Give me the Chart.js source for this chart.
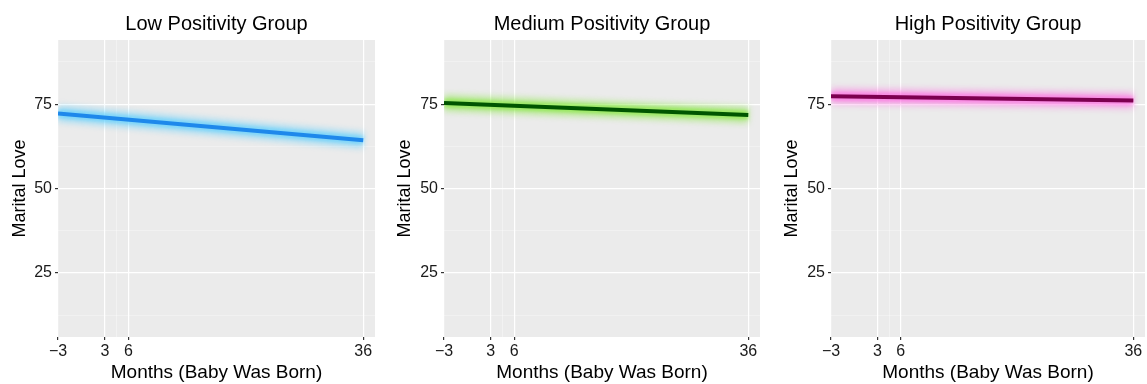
<!DOCTYPE html>
<html>
<head>
<meta charset="utf-8">
<script src="https://cdn.jsdelivr.net/npm/chart.js@4.4.1/dist/chart.umd.min.js"></script>
<style>
  html, body { margin: 0; padding: 0; background: #ffffff; }
  #wrap { position: relative; width: 1147px; height: 384px; overflow: hidden; }
  .panel { position: absolute; top: 0; height: 384px; }
</style>
</head>
<body>
<div id="wrap">
  <div class="panel" style="left:0px"><canvas id="panel0" width="380" height="384"></canvas></div>
  <div class="panel" style="left:380px"><canvas id="panel1" width="385" height="384"></canvas></div>
  <div class="panel" style="left:770px"><canvas id="panel2" width="377" height="384"></canvas></div>
</div>
<script>
// Fitted marital love trajectories, one per positivity group
const months = [-3, 36];
const lowLove = [72.2, 64.3];
const mediumLove = [75.3, 71.8];
const highLove = [77.3, 76.1];

const groupTitles = ['Low Positivity Group', 'Medium Positivity Group', 'High Positivity Group'];
const xTickValues = [-3, 3, 6, 36];
const xMinorValues = [4.5];
const yTickValues = [25, 50, 75];
const yMinorValues = [12.5, 37.5, 62.5, 87.5];
const xLabel = 'Months (Baby Was Born)';
const yLabel = 'Marital Love';

// Per-panel styling: line colour, halo colour, canvas geometry
const panels = [
  { values: lowLove,    line: 'rgb(30,136,235)', halo: 'rgba(80,205,255,0.45)',  axisWidth: 58, padRight: 5, titlePad: 9 },
  { values: mediumLove, line: 'rgb(0,85,0)',     halo: 'rgba(120,230,40,0.45)',  axisWidth: 64, padRight: 5, titlePad: 14 },
  { values: highLove,   line: 'rgb(125,0,80)',   halo: 'rgba(255,95,225,0.45)',  axisWidth: 61, padRight: 2, titlePad: 11 }
];

Chart.defaults.font.family = "'Liberation Sans', Arial, sans-serif";
Chart.defaults.color = '#1a1a1a';

// Grey panel background
const panelBackground = {
  id: 'panelBackground',
  beforeDraw(chart) {
    const { ctx, chartArea: a } = chart;
    ctx.save();
    ctx.fillStyle = '#EBEBEB';
    ctx.fillRect(a.left, a.top, a.right - a.left, a.bottom - a.top);
    ctx.restore();
  }
};

// Soft halo: blur datasets that request it
const haloBlur = {
  id: 'haloBlur',
  beforeDatasetDraw(chart, args) {
    const ds = chart.data.datasets[args.index];
    chart.ctx.save();
    if (ds.blur) chart.ctx.filter = 'blur(' + ds.blur + 'px)';
  },
  afterDatasetDraw(chart) {
    chart.ctx.restore();
  }
};

const isMajor = (list, v) => list.some(t => Math.abs(t - v) < 1e-9);

function pts(values) {
  return months.map((m, i) => ({ x: m, y: values[i] }));
}

panels.forEach((p, idx) => {
  new Chart(document.getElementById('panel' + idx), {
    type: 'scatter',
    data: {
      datasets: [
        // fitted line on top (lowest order is drawn last)
        { data: pts(p.values), order: 0, showLine: true, borderColor: p.line, borderWidth: 4, pointRadius: 0, borderCapStyle: 'butt' },
        { data: pts(p.values), order: 1, showLine: true, borderColor: p.halo, borderWidth: 9, blur: 1.5, pointRadius: 0, borderCapStyle: 'butt' },
        { data: pts(p.values), order: 2, showLine: true, borderColor: p.halo, borderWidth: 16, blur: 3, pointRadius: 0, borderCapStyle: 'butt' }
      ]
    },
    options: {
      responsive: false,
      animation: false,
      layout: { padding: { left: 0, right: p.padRight, top: 0, bottom: 0 } },
      plugins: {
        legend: { display: false },
        tooltip: { enabled: false },
        title: {
          display: true,
          text: groupTitles[idx],
          fullSize: false,
          color: '#000',
          font: { size: 20, weight: 'normal', lineHeight: 1.2 },
          padding: { top: 12, bottom: 4 }
        }
      },
      scales: {
        x: {
          type: 'linear',
          min: -3,
          max: 37.5,
          afterBuildTicks(scale) {
            scale.ticks = xTickValues.concat(xMinorValues).sort((a, b) => a - b).map(v => ({ value: v }));
          },
          afterFit(scale) { scale.height = 47; },
          ticks: {
            autoSkip: false,
            maxRotation: 0,
            padding: 2,
            color: '#1a1a1a',
            font: { size: 16 },
            callback: v => isMajor(xTickValues, v) ? String(v).replace('-', '\u2212') : ''
          },
          grid: {
            color: c => isMajor(xTickValues, c.tick.value) ? '#ffffff' : 'rgba(255,255,255,0.6)',
            lineWidth: c => isMajor(xTickValues, c.tick.value) ? 1.2 : 0.6,
            tickColor: c => isMajor(xTickValues, c.tick.value) ? '#333333' : 'rgba(0,0,0,0)',
            tickLength: 3
          },
          border: { display: false },
          title: {
            display: true,
            text: xLabel,
            color: '#000',
            font: { size: 19, lineHeight: 1.2 },
            padding: { top: 0, bottom: 0 }
          }
        },
        y: {
          type: 'linear',
          min: 6,
          max: 94,
          afterBuildTicks(scale) {
            scale.ticks = yTickValues.concat(yMinorValues).sort((a, b) => a - b).map(v => ({ value: v }));
          },
          afterFit(scale) { scale.width = p.axisWidth; },
          ticks: {
            autoSkip: false,
            padding: 3,
            color: '#1a1a1a',
            font: { size: 16 },
            callback: v => isMajor(yTickValues, v) ? String(v) : ''
          },
          grid: {
            color: c => isMajor(yTickValues, c.tick.value) ? '#ffffff' : 'rgba(255,255,255,0.55)',
            lineWidth: c => isMajor(yTickValues, c.tick.value) ? 1.2 : 0.6,
            tickColor: c => isMajor(yTickValues, c.tick.value) ? '#333333' : 'rgba(0,0,0,0)',
            tickLength: 3
          },
          border: { display: false },
          title: {
            display: true,
            text: yLabel,
            color: '#000',
            font: { size: 18, lineHeight: 1.2 },
            padding: { top: p.titlePad, bottom: 0 }
          }
        }
      }
    },
    plugins: [panelBackground, haloBlur]
  });
});
</script>
</body>
</html>
